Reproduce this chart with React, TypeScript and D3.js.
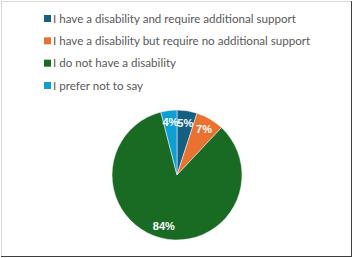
import React from "react";
import * as d3 from "d3";

const categories = [
  "I have a disability and require additional support",
  "I have a disability but require no additional support",
  "I do not have a disability",
  "I prefer not to say",
];
const values = [5, 7, 84, 4];
const colors = ["#156082", "#E97132", "#196B24", "#0F9ED5"];

const W = 353;
const H = 258;

export default function App() {
  const cx = 177;
  const cy = 175;
  const R = 65;
  const pie = d3.pie<number>().sort(null).value((d) => d);
  const arcs = pie(values);
  const arc = d3.arc<d3.PieArcDatum<number>>().innerRadius(0).outerRadius(R);
  const labelArc = d3.arc<d3.PieArcDatum<number>>().innerRadius(41).outerRadius(R);
  const total = d3.sum(values);
  const legendY = d3
    .scalePoint<string>()
    .domain(categories)
    .range([18.5, 85.5]);

  return (
    <svg
      width={W}
      height={H}
      style={{ position: "absolute", left: 0, top: 0 }}
      fontFamily="Lato, 'Open Sans', sans-serif"
    >
      <rect x={0} y={0} width={W} height={H} fill="#fff" />
      <rect x={1.5} y={1.5} width={W - 3} height={H - 3} fill="none" stroke="#d9d9d9" />
      <line x1={W - 1.5} y1={1} x2={W - 1.5} y2={H - 1} stroke="#404040" />
      <line x1={1} y1={H - 1.5} x2={W - 1} y2={H - 1.5} stroke="#404040" />
      {categories.map((c, i) => (
        <g key={c} transform={`translate(44,${legendY(c)})`}>
          <rect x={0} y={-3.5} width={7} height={7} fill={colors[i]} />
          <text x={9} y={0} dy="0.35em" fontSize={11.6} fill="#595959">
            {c}
          </text>
        </g>
      ))}
      <g transform={`translate(${cx},${cy})`}>
        {arcs.map((a, i) => (
          <path key={i} d={arc(a) || ""} fill={colors[i]} stroke="#fff" strokeWidth={0.5} />
        ))}
        {arcs.map((a, i) => {
          const [x, y] = labelArc.centroid(a);
          return (
            <text
              key={"l" + i}
              x={x}
              y={y}
              dy="0.35em"
              textAnchor="middle"
              fontSize={11}
              fontWeight="bold"
              fill="#fff"
              fontFamily="'Liberation Sans', Arial, sans-serif"
            >
              {`${Math.round((a.data / total) * 100)}%`}
            </text>
          );
        })}
      </g>
    </svg>
  );
}
